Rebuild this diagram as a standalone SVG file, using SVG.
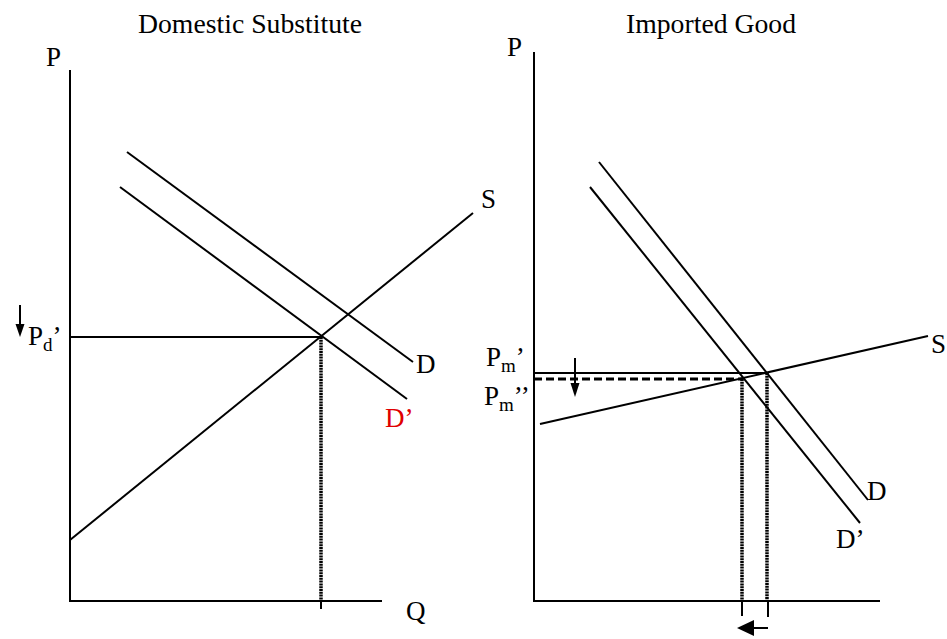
<svg xmlns="http://www.w3.org/2000/svg" width="947" height="639" viewBox="0 0 947 639">
<defs>
<style>
.ln{stroke:#000;stroke-width:2;fill:none}
.dot{stroke:#000;stroke-width:3.5;stroke-dasharray:2 0.8;fill:none}
.dash{stroke:#000;stroke-width:3;stroke-dasharray:8 4;fill:none}
text{font-family:"Liberation Serif","Times New Roman",serif;font-size:27px;fill:#000}
.sub{font-size:19px}
.head{fill:#000;stroke:none}
</style>
</defs>
<rect width="947" height="639" fill="#fff"/>
<g id="left-panel">
<text x="138" y="33" textLength="224" lengthAdjust="spacingAndGlyphs">Domestic Substitute</text>
<text x="46" y="66">P</text>
<text x="406" y="620">Q</text>
<g id="left-axes"><path class="ln" d="M70,70 V601 H382"/></g>
</g>
<g id="connectors">
<path id="left-D" class="ln" d="M127,152 L413,362"/>
<path id="left-Dp" class="ln" d="M120,187 L407,399"/>
<path id="left-S" class="ln" d="M70,540 L473,213"/>
<path id="left-Pd" class="ln" d="M70,337 H321"/>
<path id="left-Q" class="dot" d="M321,337 V601"/>
<path class="ln" d="M321,601 V609"/>
<path id="right-D" class="ln" d="M599,162 L868,500"/>
<path id="right-Dp" class="ln" d="M590,187 L860,523"/>
<path id="right-S" class="ln" d="M540,424 L928,336"/>
<path id="right-Pm1" class="ln" d="M534,373 H767"/>
<path id="right-Pm2" class="dash" d="M534,379 H742"/>
<path class="dot" d="M742,379 V601"/>
<path class="dot" d="M767,373 V601"/>
<path class="ln" d="M742,601 V616 M768,601 V617"/>
<g id="arrow-pd"><path class="ln" d="M20,305 V327"/><path class="head" d="M15.5,324 L24.5,324 L20,337 z"/></g>
<g id="arrow-pm"><path class="ln" d="M575,358 V386"/><path class="head" d="M570.5,383 L579.5,383 L575,397 z"/></g>
<g id="arrow-q"><path class="ln" stroke-width="4" d="M768,628 H752"/><path class="head" d="M754,620 L754,636 L737,628 z"/></g>
</g>
<g id="left-labels">
<text x="416" y="373">D</text>
<text x="385" y="427" style="fill:#e00000">D’</text>
<text x="481" y="208">S</text>
<text x="28" y="345">P<tspan class="sub" dy="6">d</tspan><tspan dy="-6">’</tspan></text>
</g>
<g id="right-panel">
<text x="626" y="33" textLength="170" lengthAdjust="spacingAndGlyphs">Imported Good</text>
<text x="507" y="56">P</text>
<g id="right-axes"><path class="ln" d="M534,52 V601 H880"/></g>
<text x="931" y="353">S</text>
<text x="867" y="500">D</text>
<text x="836" y="548">D’</text>
<text x="486" y="366">P<tspan class="sub" dy="6">m</tspan><tspan dy="-6">’</tspan></text>
<text x="484" y="405">P<tspan class="sub" dy="6">m</tspan><tspan dy="-6">’’</tspan></text>
</g>
</svg>
